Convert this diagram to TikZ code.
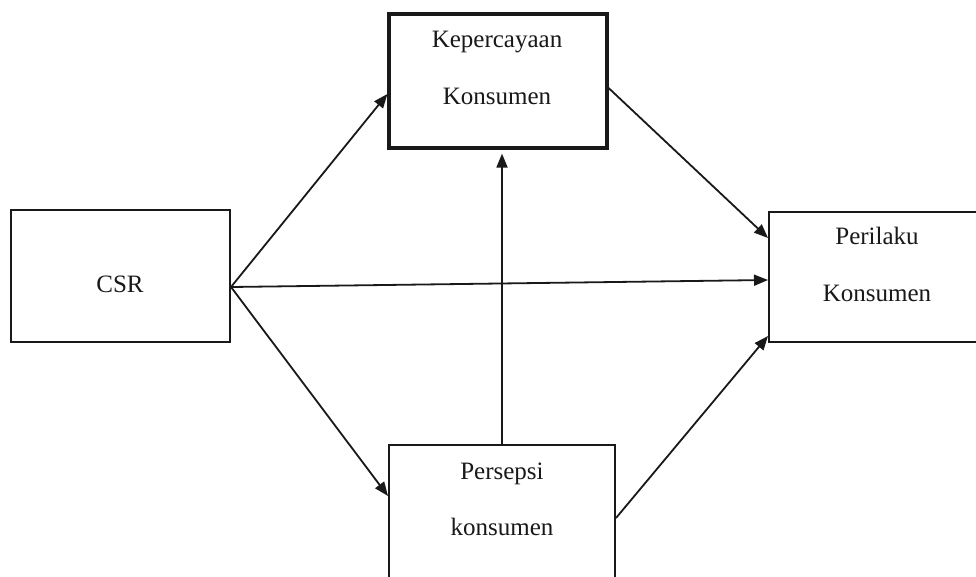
\documentclass[tikz,border=0pt]{standalone}
\usepackage{fontspec}
\setmainfont{Liberation Serif}
\usetikzlibrary{arrows.meta}
\definecolor{ink}{RGB}{25,25,25}
\tikzset{
  box/.style={draw=ink, line width=2pt, rectangle, inner sep=0pt},
  boldbox/.style={box, line width=3.2pt},
  lbl/.style={anchor=base, inner sep=0pt, text=ink, font=\fontsize{25}{30}\selectfont},
  link/.style={draw=ink, line width=1.8pt, -{Triangle[length=14pt,width=11pt]}}
}
\begin{document}
\begin{tikzpicture}[x=1pt,y=-1pt]
  \clip (0,0) rectangle (976,576);
  \fill[white] (0,0) rectangle (976,576);

  % boxes
  \node[boldbox, minimum width=218pt, minimum height=134pt] (kep) at (498,81) {};
  \node[box, minimum width=219pt, minimum height=132pt] (csr) at (120.5,276) {};
  \node[box, minimum width=231pt, minimum height=130pt] (per) at (884.5,277) {};
  \node[box, minimum width=226pt, minimum height=155pt] (pers) at (502,522.5) {};

  % box texts
  \node[lbl] (kep1) at (497,47) {Kepercayaan};
  \node[lbl] (kep2) at (497,104) {Konsumen};
  \node[lbl] (csrt) at (120,292) {CSR};
  \node[lbl] (per1) at (877,244) {Perilaku};
  \node[lbl] (per2) at (877,301) {Konsumen};
  \node[lbl] (pers1) at (502,479) {Persepsi};
  \node[lbl] (pers2) at (502,535) {konsumen};

  % connectors
  \draw[link] ([yshift=-11pt]csr.east) -- ([yshift=-13pt]kep.west);
  \draw[link] ([yshift=-11pt]csr.east) -- ([yshift=26.5pt]pers.west);
  \draw[link] ([yshift=-11pt]csr.east) -- ([yshift=-3pt]per.west);
  \draw[link] ([yshift=-7pt]kep.east) -- ([yshift=39pt]per.west);
  \draw[link] ([yshift=4.5pt]pers.east) -- ([yshift=-59pt]per.west);
  \draw[link, shorten >=4pt] (pers.north) -- ([xshift=4pt]kep.south);
\end{tikzpicture}
\end{document}
